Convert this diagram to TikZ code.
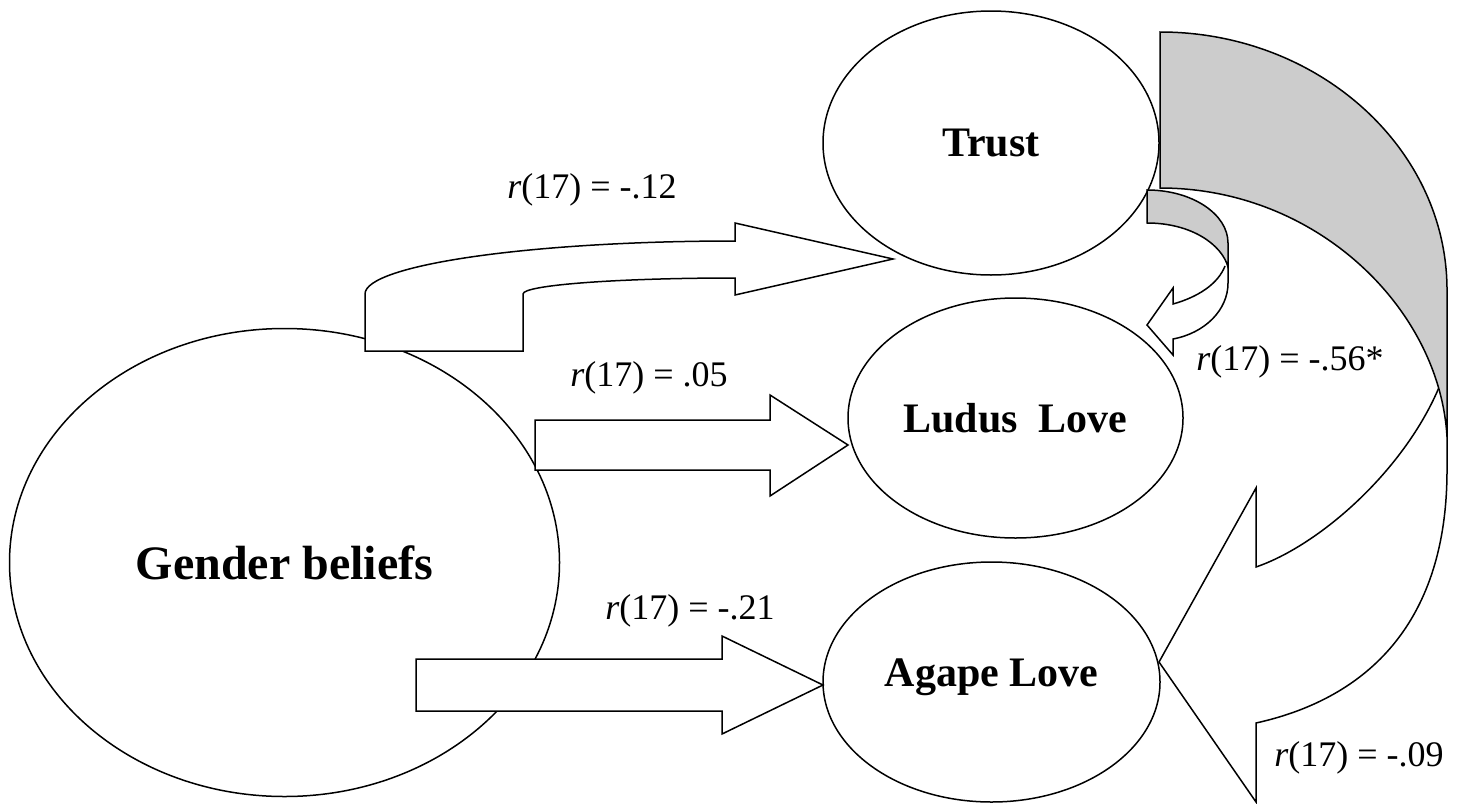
\documentclass[tikz,border=0pt]{standalone}
\usepackage{fontspec}
\setmainfont{Liberation Serif}
\usetikzlibrary{shapes.geometric}
\definecolor{backgray}{gray}{0.8}

\begin{document}
\begin{tikzpicture}[x=1pt,y=-1pt]
\tikzset{
  construct/.style={ellipse,draw,fill=white,line width=1.5pt,inner sep=0pt,font=\bfseries\fontsize{42}{46}\selectfont},
  blockarrow/.style={draw,fill=white,line width=1.5pt,line join=miter},
  backside/.style={draw,fill=backgray,line width=1.5pt},
  corrlabel/.style={inner sep=0pt,font=\fontsize{36}{40}\selectfont}
}
\useasboundingbox (0,0) rectangle (1466,803);
\node[construct,minimum width=550pt,minimum height=468pt,font=\bfseries\fontsize{48}{52}\selectfont] (n_gender) at (284.5,562.5) {Gender beliefs};
\node[construct,minimum width=336pt,minimum height=264pt] (n_trust) at (991,143) {Trust};
\node[construct,minimum width=335pt,minimum height=240pt] (n_ludus) at (1015.5,418) {Ludus\ \ Love};
\node[construct,minimum width=337pt,minimum height=240pt,text height=29pt,text depth=20pt] (n_agape) at (991.5,682) {Agape Love};
% gender -> trust
\draw[blockarrow] (365,351) -- (523,351) -- (523,294) .. controls (523,285) and (618,278) .. (735,278) -- (735,295) -- (893,259) -- (735,223) -- (735,241) .. controls (531,241) and (365,265) .. (365,294) -- cycle;
% gender -> ludus
\draw[blockarrow] (535,420) -- (770,420) -- (770,395) -- (848,445) -- (770,496) -- (770,470) -- (535,470) -- cycle;
% gender -> agape
\draw[blockarrow] (416,659) -- (722,659) -- (722,636) -- (823,685) -- (722,734) -- (722,711) -- (416,711) -- cycle;
% trust -> agape
\draw[blockarrow] (1440,385) .. controls (1405,470) and (1320,545) .. (1256,567) -- (1256,488) -- (1159,662) -- (1256,802) -- (1256,723) .. controls (1360,700) and (1447,630) .. (1447,470) -- (1447,437);
\draw[backside] (1160,32) .. controls (1318,32) and (1447,148) .. (1447,290) -- (1447,437) .. controls (1440,310) and (1318,188) .. (1160,188) -- cycle;
% trust -> ludus
\draw[blockarrow] (1225,266) .. controls (1218,284) and (1198,297) .. (1173,304) -- (1173,288) -- (1147,325) -- (1173,355) -- (1173,339) .. controls (1205,333) and (1228,310) .. (1228,283) -- (1228,267);
\draw[backside] (1147,190) .. controls (1192,190) and (1228,214) .. (1228,243) -- (1228,267) .. controls (1222,245) and (1192,223) .. (1147,223) -- cycle;
% correlations
\node[corrlabel] (c_trust) at (592,190) {\textit{r}(17) = -.12};
\node[corrlabel] (c_ludus) at (649,378) {\textit{r}(17) = .05};
\node[corrlabel] (c_agape) at (690,611) {\textit{r}(17) = -.21};
\node[corrlabel] (c_trustludus) at (1290,362) {\textit{r}(17) = -.56*};
\node[corrlabel] (c_trustagape) at (1359,758) {\textit{r}(17) = -.09};
\end{tikzpicture}
\end{document}
